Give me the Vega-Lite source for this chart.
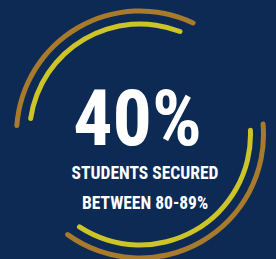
{
  "$schema": "https://vega.github.io/schema/vega-lite/v6.json",
  "width": 272,
  "height": 247,
  "autosize": {"type": "none"},
  "padding": {"left": 4, "top": 11, "right": 0, "bottom": 1},
  "background": "#0c2a53",
  "config": {"view": {"stroke": null}},
  "datasets": {
    "arcs": [
      {"ring": "outer", "start": -87, "end": 26.6},
      {"ring": "outer", "start": 84, "end": 217},
      {"ring": "inner", "start": -83, "end": 22.5},
      {"ring": "inner", "start": 86.5, "end": 214.5}
    ],
    "big": [{"label": "40%"}],
    "lines": [{"label": "STUDENTS SECURED", "line": 1}, {"label": "BETWEEN 80-89%", "line": 2}]
  },
  "layer": [
    {
      "data": {"name": "arcs"},
      "transform": [{"filter": "datum.ring === 'outer'"}],
      "mark": {"type": "arc", "radius": 126, "radius2": 121, "cornerRadius": 2.5},
      "encoding": {
        "theta": {"field": "start", "type": "quantitative", "scale": {"domain": [0, 360], "range": [0, 6.283185307], "zero": false}},
        "theta2": {"field": "end"},
        "color": {"field": "ring", "type": "nominal", "scale": {"domain": ["outer", "inner"], "range": ["#a87a2b", "#cdc428"]}, "legend": null}
      }
    },
    {
      "data": {"name": "arcs"},
      "transform": [{"filter": "datum.ring === 'inner'"}],
      "mark": {"type": "arc", "radius": 113, "radius2": 108, "cornerRadius": 2.5},
      "encoding": {
        "theta": {"field": "start", "type": "quantitative", "scale": {"domain": [0, 360], "range": [0, 6.283185307], "zero": false}},
        "theta2": {"field": "end"},
        "color": {"field": "ring", "type": "nominal", "scale": {"domain": ["outer", "inner"], "range": ["#a87a2b", "#cdc428"]}, "legend": null}
      }
    },
    {
      "data": {"name": "big"},
      "mark": {"type": "text", "font": "Roboto Condensed, Open Sans Condensed, sans-serif", "fontWeight": "bold", "fontSize": 78, "color": "white", "baseline": "alphabetic", "align": "center", "dx": -2.5, "dy": 10.5},
      "encoding": {"text": {"field": "label"}}
    },
    {
      "data": {"name": "lines"},
      "transform": [{"filter": "datum.line === 1"}],
      "mark": {"type": "text", "font": "Roboto Condensed, Open Sans Condensed, sans-serif", "fontWeight": "bold", "fontSize": 17.5, "color": "white", "baseline": "alphabetic", "align": "center", "dx": 5, "dy": 44.5},
      "encoding": {"text": {"field": "label"}}
    },
    {
      "data": {"name": "lines"},
      "transform": [{"filter": "datum.line === 2"}],
      "mark": {"type": "text", "font": "Roboto Condensed, Open Sans Condensed, sans-serif", "fontWeight": "bold", "fontSize": 17.5, "color": "white", "baseline": "alphabetic", "align": "center", "dx": 5, "dy": 74.5},
      "encoding": {"text": {"field": "label"}}
    }
  ]
}
